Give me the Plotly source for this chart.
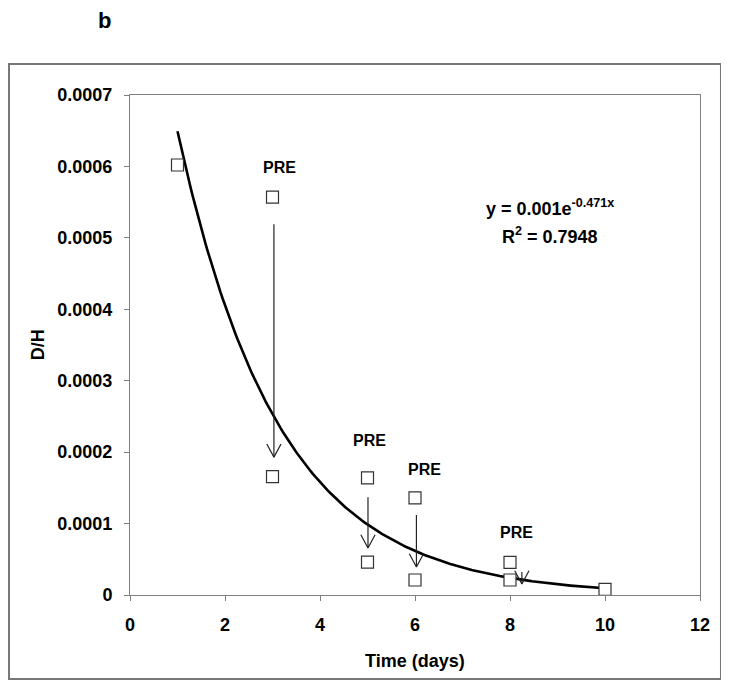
import numpy as np
import plotly.graph_objects as go

# ---- data ----
days = [1, 3, 5, 6, 8, 10]
dh_values = [0.000602, 0.0001656, 0.000046, 0.000021, 0.000021, 0.000008]
pre_days = [3, 5, 6, 8]
pre_values = [0.000557, 0.000164, 0.000136, 0.0000458]

arrow_x = [3.03, 5.01, 6.03, 8.25]
arrow_y_start = [0.000519, 0.000137, 0.000112, 0.0000322]
arrow_y_end = [0.000193, 0.0000658, 0.0000392, 0.0000154]

pre_label_x = [3.14, 5.05, 6.21, 8.13]
pre_label_y = [0.000599, 0.000216, 0.000176, 0.000088]
pre_label = "PRE"

fit_a = 0.00104
fit_b = -0.471
fit_x_min, fit_x_max = 1, 10
eq_text = "y = 0.001e<sup>-0.471x</sup>"
r2_text = "R<sup>2</sup> = 0.7948"

x_ticks = [0, 2, 4, 6, 8, 10, 12]
y_ticks = [0, 0.0001, 0.0002, 0.0003, 0.0004, 0.0005, 0.0006, 0.0007]
y_tick_labels = ["0", "0.0001", "0.0002", "0.0003", "0.0004", "0.0005", "0.0006", "0.0007"]

FONT = "Liberation Sans, Arial, sans-serif"

fig = go.Figure()

# trendline
xf = np.linspace(fit_x_min, fit_x_max, 200)
fig.add_trace(go.Scatter(x=xf, y=fit_a * np.exp(fit_b * xf), mode="lines",
                         line=dict(color="black", width=2.6), hoverinfo="skip"))

# arrows (stem + open V head)
head_dx, head_dy = 0.15, 0.0000185
ax, ay = [], []
for x, ys, ye in zip(arrow_x, arrow_y_start, arrow_y_end):
    ax += [x, x, None, x - head_dx, x, x + head_dx, None]
    ay += [ys, ye, None, ye + head_dy, ye, ye + head_dy, None]
fig.add_trace(go.Scatter(x=ax, y=ay, mode="lines",
                         line=dict(color="#222222", width=1.2), hoverinfo="skip"))

marker = dict(symbol="square", size=12, color="white",
              line=dict(color="#333333", width=1.2))
fig.add_trace(go.Scatter(x=days, y=dh_values, mode="markers", marker=marker))
fig.add_trace(go.Scatter(x=pre_days, y=pre_values, mode="markers", marker=marker))

for x, y in zip(pre_label_x, pre_label_y):
    fig.add_annotation(x=x, y=y, text=pre_label, showarrow=False,
                       font=dict(family=FONT, size=16, color="black", weight="bold"))

fig.add_annotation(x=8.84, y=0.000543, text=eq_text, showarrow=False,
                   font=dict(family=FONT, size=18, color="black", weight="bold"))
fig.add_annotation(x=8.84, y=0.000503, text=r2_text, showarrow=False,
                   font=dict(family=FONT, size=18, color="black", weight="bold"))

# axis titles
fig.add_annotation(xref="paper", yref="paper", x=0.5, y=-0.132, text="Time (days)",
                   showarrow=False, xanchor="center", yanchor="middle",
                   font=dict(family=FONT, size=18, color="black", weight="bold"))
fig.add_annotation(xref="paper", yref="paper", x=-0.161, y=0.5, text="D/H",
                   showarrow=False, textangle=-90, xanchor="center", yanchor="middle",
                   font=dict(family=FONT, size=18, color="black", weight="bold"))
# panel letter
fig.add_annotation(xref="paper", yref="paper", x=-0.0456, y=1.15, text="b",
                   showarrow=False, xanchor="center", yanchor="middle",
                   font=dict(family=FONT, size=22, color="black", weight="bold"))

# outer frame
fig.add_shape(type="rect", xref="paper", yref="paper",
              x0=-0.2123, x1=1.0368, y0=-0.168, y1=1.062,
              line=dict(color="#777777", width=2), layer="above")

axis_font = dict(family=FONT, size=18, color="black", weight="bold")
fig.update_xaxes(range=[0, 12], tickvals=x_ticks, ticks="outside", ticklen=5,
                 tickcolor="#808080", showline=True, linecolor="#808080", linewidth=1,
                 mirror=True, showgrid=False, zeroline=False, tickfont=axis_font,
                 ticklabelstandoff=8)
fig.update_yaxes(range=[0, 0.0007], tickvals=y_ticks, ticktext=y_tick_labels,
                 ticks="outside", ticklen=5, tickcolor="#808080", showline=True,
                 linecolor="#808080", linewidth=1, mirror=True, showgrid=False,
                 zeroline=False, tickfont=axis_font, ticklabelstandoff=8)

fig.update_layout(width=729, height=690, margin=dict(l=122, r=37, t=87, b=103),
                  paper_bgcolor="white", plot_bgcolor="white", showlegend=False)

fig.write_html("out.html")
